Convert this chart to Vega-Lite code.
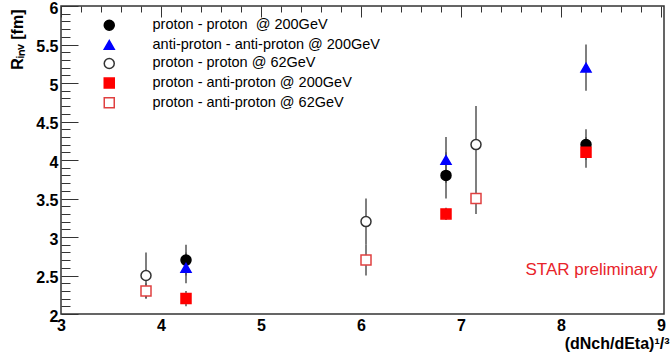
{
  "$schema": "https://vega.github.io/schema/vega-lite/v6.json",
  "width": 603,
  "height": 308,
  "autosize": "none",
  "padding": {"left": 61, "top": 6, "right": 7, "bottom": 47},
  "background": "white",
  "config": {"view": {"stroke": "#333", "strokeWidth": 1.5}, "font": "Liberation Sans"},
  "datasets": {
    "pts": [
      {"series": "proton - proton\u00a0 @ 200GeV", "x": 4.25, "y": 2.7, "lo": 2.5, "hi": 2.9},
      {"series": "proton - proton\u00a0 @ 200GeV", "x": 6.85, "y": 3.8, "lo": 3.5, "hi": 4.1},
      {"series": "proton - proton\u00a0 @ 200GeV", "x": 8.25, "y": 4.2, "lo": 4.0, "hi": 4.4},
      {"series": "anti-proton - anti-proton @ 200GeV", "x": 4.25, "y": 2.6, "lo": 2.4, "hi": 2.8},
      {"series": "anti-proton - anti-proton @ 200GeV", "x": 6.85, "y": 4.0, "lo": 3.7, "hi": 4.3},
      {"series": "anti-proton - anti-proton @ 200GeV", "x": 8.25, "y": 5.2, "lo": 4.9, "hi": 5.5},
      {"series": "proton - proton @ 62GeV", "x": 3.85, "y": 2.5, "lo": 2.2, "hi": 2.8},
      {"series": "proton - proton @ 62GeV", "x": 6.05, "y": 3.2, "lo": 2.9, "hi": 3.5},
      {"series": "proton - proton @ 62GeV", "x": 7.15, "y": 4.2, "lo": 3.7, "hi": 4.7},
      {"series": "proton - anti-proton @ 200GeV", "x": 4.25, "y": 2.2, "lo": 2.1, "hi": 2.3},
      {"series": "proton - anti-proton @ 200GeV", "x": 6.85, "y": 3.3, "lo": 3.22, "hi": 3.38},
      {"series": "proton - anti-proton @ 200GeV", "x": 8.25, "y": 4.1, "lo": 3.9, "hi": 4.3},
      {"series": "proton - anti-proton @ 62GeV", "x": 3.85, "y": 2.3, "lo": 2.2, "hi": 2.4},
      {"series": "proton - anti-proton @ 62GeV", "x": 6.05, "y": 2.7, "lo": 2.5, "hi": 2.9},
      {"series": "proton - anti-proton @ 62GeV", "x": 7.15, "y": 3.5, "lo": 3.3, "hi": 3.7}
    ],
    "ann": [{"x": 8.305, "y": 2.57, "t": "STAR preliminary"}]
  },
  "layer": [
    {
      "data": {"name": "pts"},
      "mark": {"type": "rule", "color": "#555", "strokeWidth": 1.5},
      "encoding": {
        "x": {
          "field": "x", "type": "quantitative",
          "scale": {"domain": [3, 9.03], "nice": false, "zero": false},
          "axis": {
            "orient": "bottom", "tickCount": 100,
            "values": [3, 3.2, 3.4, 3.6, 3.8, 4, 4.2, 4.4, 4.6, 4.8, 5, 5.2, 5.4, 5.6, 5.8, 6, 6.2, 6.4, 6.6, 6.8, 7, 7.2, 7.4, 7.6, 7.8, 8, 8.2, 8.4, 8.6, 8.8, 9],
            "ticks": false,
            "grid": true, "gridColor": "#333", "gridWidth": 1, "gridOpacity": 1,
            "gridDash": {"condition": {"test": "abs(datum.value - round(datum.value)) < 0.01", "value": [11, 2000]}, "value": [6, 2000]},
            "domain": false, "labelFontSize": 16, "labelFontWeight": "bold", "labelColor": "#000",
            "labelPadding": 3, "labelFlush": false, "labelOverlap": false, "format": "~g",
            "labelExpr": "abs(datum.value - round(datum.value)) < 0.01 ? datum.label : ''",
            "title": "(dNch/dEta)¹/³", "titleX": 608, "titleAlign": "right", "titleAnchor": "end",
            "titleFontSize": 16, "titleFontWeight": "bold", "titleColor": "#000", "titlePadding": 2
          }
        },
        "y": {
          "field": "lo", "type": "quantitative",
          "scale": {"domain": [2, 6], "nice": false, "zero": false},
          "axis": {
            "orient": "left", "tickCount": 100,
            "values": [2, 2.1, 2.2, 2.3, 2.4, 2.5, 2.6, 2.7, 2.8, 2.9, 3, 3.1, 3.2, 3.3, 3.4, 3.5, 3.6, 3.7, 3.8, 3.9, 4, 4.1, 4.2, 4.3, 4.4, 4.5, 4.6, 4.7, 4.8, 4.9, 5, 5.1, 5.2, 5.3, 5.4, 5.5, 5.6, 5.7, 5.8, 5.9, 6],
            "ticks": false,
            "grid": true, "gridColor": "#333", "gridWidth": 1, "gridOpacity": 1,
            "gridDash": {"condition": {"test": "abs(datum.value * 2 - round(datum.value * 2)) < 0.01", "value": [17, 2000]}, "value": [9, 2000]},
            "domain": false, "labelFontSize": 16, "labelFontWeight": "bold", "labelColor": "#000",
            "labelPadding": 3, "labelOffset": 2, "labelFlush": false, "labelOverlap": false, "format": "~g",
            "labelExpr": "abs(datum.value * 2 - round(datum.value * 2)) < 0.01 ? datum.label : ''",
            "title": "Rᵢₙᵥ [fm]", "titleAnchor": "end", "titleAlign": "right", "titleY": 3,
            "titleFontSize": 16, "titleFontWeight": "bold", "titleColor": "#000", "titlePadding": 10
          }
        },
        "y2": {"field": "hi"}
      }
    },
    {
      "data": {"name": "pts"},
      "mark": {"type": "point", "opacity": 1, "strokeWidth": 1.5, "size": 100},
      "encoding": {
        "x": {"field": "x", "type": "quantitative"},
        "y": {"field": "y", "type": "quantitative"},
        "shape": {
          "field": "series", "type": "nominal",
          "scale": {
            "domain": ["proton - proton\u00a0 @ 200GeV", "anti-proton - anti-proton @ 200GeV", "proton - proton @ 62GeV", "proton - anti-proton @ 200GeV", "proton - anti-proton @ 62GeV"],
            "range": ["circle", "triangle-up", "circle", "square", "square"]
          },
          "legend": {
            "title": null, "orient": "none", "legendX": 41, "legendY": 12, "labelFontSize": 14.5, "labelColor": "#000",
            "labelLimit": 400, "rowPadding": 2.6, "labelOffset": 36, "symbolSize": 100, "symbolStrokeWidth": 1.5, "padding": 0
          }
        },
        "fill": {
          "field": "series", "type": "nominal",
          "scale": {
            "domain": ["proton - proton\u00a0 @ 200GeV", "anti-proton - anti-proton @ 200GeV", "proton - proton @ 62GeV", "proton - anti-proton @ 200GeV", "proton - anti-proton @ 62GeV"],
            "range": ["#000000", "#0000ff", "#ffffff", "#ff0000", "#ffffff"]
          },
          "legend": {
            "title": null, "orient": "none", "legendX": 41, "legendY": 12, "labelFontSize": 14.5, "labelColor": "#000",
            "labelLimit": 400, "rowPadding": 2.6, "labelOffset": 36, "symbolSize": 100, "symbolStrokeWidth": 1.5, "padding": 0
          }
        },
        "stroke": {
          "field": "series", "type": "nominal",
          "scale": {
            "domain": ["proton - proton\u00a0 @ 200GeV", "anti-proton - anti-proton @ 200GeV", "proton - proton @ 62GeV", "proton - anti-proton @ 200GeV", "proton - anti-proton @ 62GeV"],
            "range": ["#000000", "#0000ff", "#333333", "#ff0000", "#e04040"]
          },
          "legend": {
            "title": null, "orient": "none", "legendX": 41, "legendY": 12, "labelFontSize": 14.5, "labelColor": "#000",
            "labelLimit": 400, "rowPadding": 2.6, "labelOffset": 36, "symbolSize": 100, "symbolStrokeWidth": 1.5, "padding": 0
          }
        }
      }
    },
    {
      "data": {"name": "ann"},
      "mark": {"type": "text", "color": "#e8232a", "fontSize": 17, "align": "center", "baseline": "middle"},
      "encoding": {
        "x": {"field": "x", "type": "quantitative"},
        "y": {"field": "y", "type": "quantitative"},
        "text": {"field": "t"}
      }
    }
  ]
}
